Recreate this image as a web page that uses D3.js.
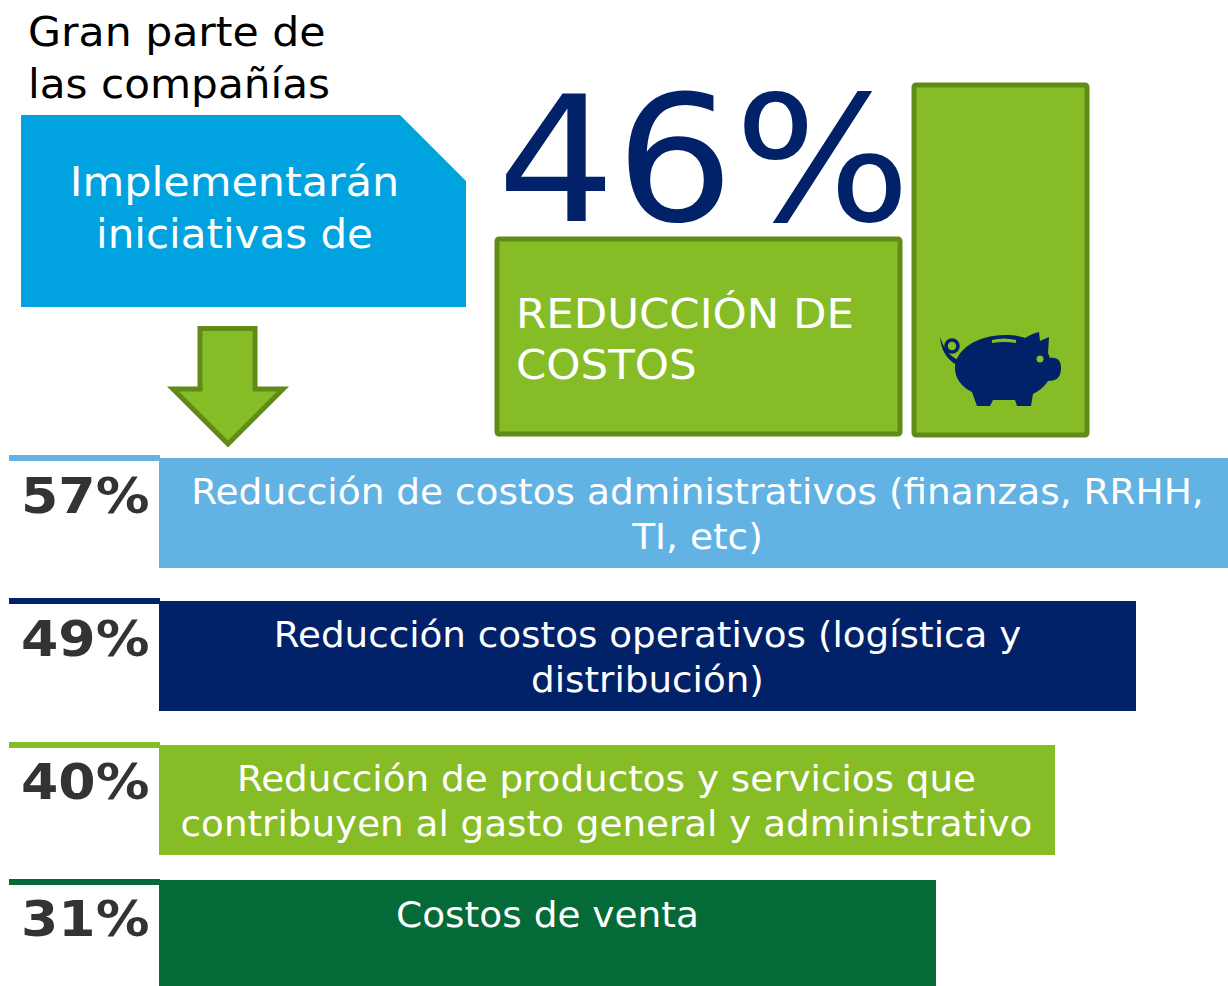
<!DOCTYPE html>
<html><head><meta charset="utf-8">
<script src="https://cdn.jsdelivr.net/npm/d3@7"></script>
<style>html,body{margin:0;padding:0;background:#fff}svg{display:block}text{font-family:"DejaVu Sans",Verdana,sans-serif}</style>
</head><body><svg id="c" width="1228" height="986"></svg>
<script>
const categoryLines=[["Reducción de costos administrativos (finanzas, RRHH,","TI, etc)"],["Reducción costos operativos (logística y","distribución)"],["Reducción de productos y servicios que","contribuyen al gasto general y administrativo"],["Costos de venta"]];
const values=[57,49,40,31];
const barColors=["#62B3E4","#012169","#86BC25","#046A38"];
const headline=46;

const svg=d3.select("#c");
// The reference's bar lengths are not proportional to the values, so the scale is piecewise.
const x=d3.scaleLinear().domain([31,40,49,57]).range([936,1055,1136,1228]);
const yTop=d3.scaleOrdinal().domain(values).range([458,601,745,880]);
const yBot=d3.scaleOrdinal().domain(values).range([568,711,855,986]);
const yRule=d3.scaleOrdinal().domain(values).range([458,601,745,882]);
const yPct=d3.scaleOrdinal().domain(values).range([513,656,799,936]);
const x0=159;

// Stretch DejaVu horizontally to stand in for the wider Verdana of the reference.
function stretch(sel,k){
  sel.each(function(d,i){
    const n=this.getComputedTextLength();
    const f=Array.isArray(k)?k[i]:k;
    d3.select(this).attr("textLength",n*f).attr("lengthAdjust","spacingAndGlyphs");
  });
}
function lines(g,arr,xp,ys,size,fill,anchor,k){
  const s=g.selectAll(null).data(arr).join("text").attr("x",xp).attr("y",(d,i)=>ys[i]).attr("font-size",size)
   .attr("fill",fill).attr("text-anchor",anchor||"start").text(d=>d);
  stretch(s,k);
}
const G="#86BC25",GD="#5F8B16",NAVY="#012169";

lines(svg,["Gran parte de","las compañías"],28,[46,98],40,"#000","start",[1.065,1.055]);
svg.append("path").attr("d","M21,115H400L466,181V307H21Z").attr("fill","#00A3E0");
lines(svg,["Implementarán","iniciativas de"],234.5,[196,248],40,"#fff","middle",[1.072,1.05]);

svg.append("text").attr("x",497).attr("y",221).attr("font-size",174).attr("fill",NAVY).attr("textLength",414).attr("lengthAdjust","spacingAndGlyphs").text(headline+"%");
svg.append("rect").attr("x",497).attr("y",239).attr("width",403).attr("height",195).attr("rx",2).attr("fill",G).attr("stroke",GD).attr("stroke-width",5);
svg.append("rect").attr("x",914).attr("y",85).attr("width",173).attr("height",350).attr("rx",2).attr("fill",G).attr("stroke",GD).attr("stroke-width",5);
lines(svg,["REDUCCIÓN DE","COSTOS"],516,[328,379],40,"#fff","start",1.087);

svg.append("path").attr("d","M200,328.5H255V389H283L228,444L173,389H200Z").attr("fill",G).attr("stroke",GD).attr("stroke-width",5);

// piggy bank
const pig=svg.append("g").attr("fill",NAVY);
pig.append("path").attr("d","M977,406L972,392C962,387 955,379 955,368C955,350 977,335 1005,335C1013,335 1020,336 1025,338C1030,335 1034,333 1039,332L1040,341L1049,337L1048,353L1050,358C1058,357 1061,361 1061,368C1061,377 1057,381 1048,381C1044,387 1039,391 1033,394L1031,406H1017L1015,400H993L990,406Z");
pig.append("path").attr("d","M940,337C941,350 947,360 957,365L959,360C950,357 944,349 940,337Z");
pig.append("circle").attr("cx",952).attr("cy",346).attr("r",6).attr("fill","none").attr("stroke",NAVY).attr("stroke-width",3.5);
pig.append("path").attr("d","M992,340Q1004,337 1016,340V343Q1004,341 992,343Z").attr("fill",G);
pig.append("circle").attr("cx",1040).attr("cy",359).attr("r",3.5).attr("fill",G);

// rows
const rows=svg.selectAll("g.row").data(values).join("g").attr("class","row");
rows.append("rect").attr("x",9).attr("width",151).attr("y",d=>yRule(d)-3).attr("height",6).attr("fill",(d,i)=>barColors[i]);
rows.append("rect").attr("x",x0).attr("y",d=>yTop(d)).attr("width",d=>x(d)-x0).attr("height",d=>yBot(d)-yTop(d)).attr("fill",(d,i)=>barColors[i]);
stretch(rows.append("text").attr("x",21).attr("y",d=>yPct(d)).attr("font-size",49).attr("font-weight",700).attr("fill","#333").text(d=>d+"%"),1.095);
rows.each(function(d,i){
  const g=d3.select(this),cx=[697.5,647.5,606.5,547.5][i],t=yTop(d);
  const ys=i===3?[t+47]:[t+46,t+91];
  lines(g,categoryLines[i],cx,ys,35.5,"#fff","middle",[1.055,1.05,1.05,1.055][i]);
});
</script></body></html>
